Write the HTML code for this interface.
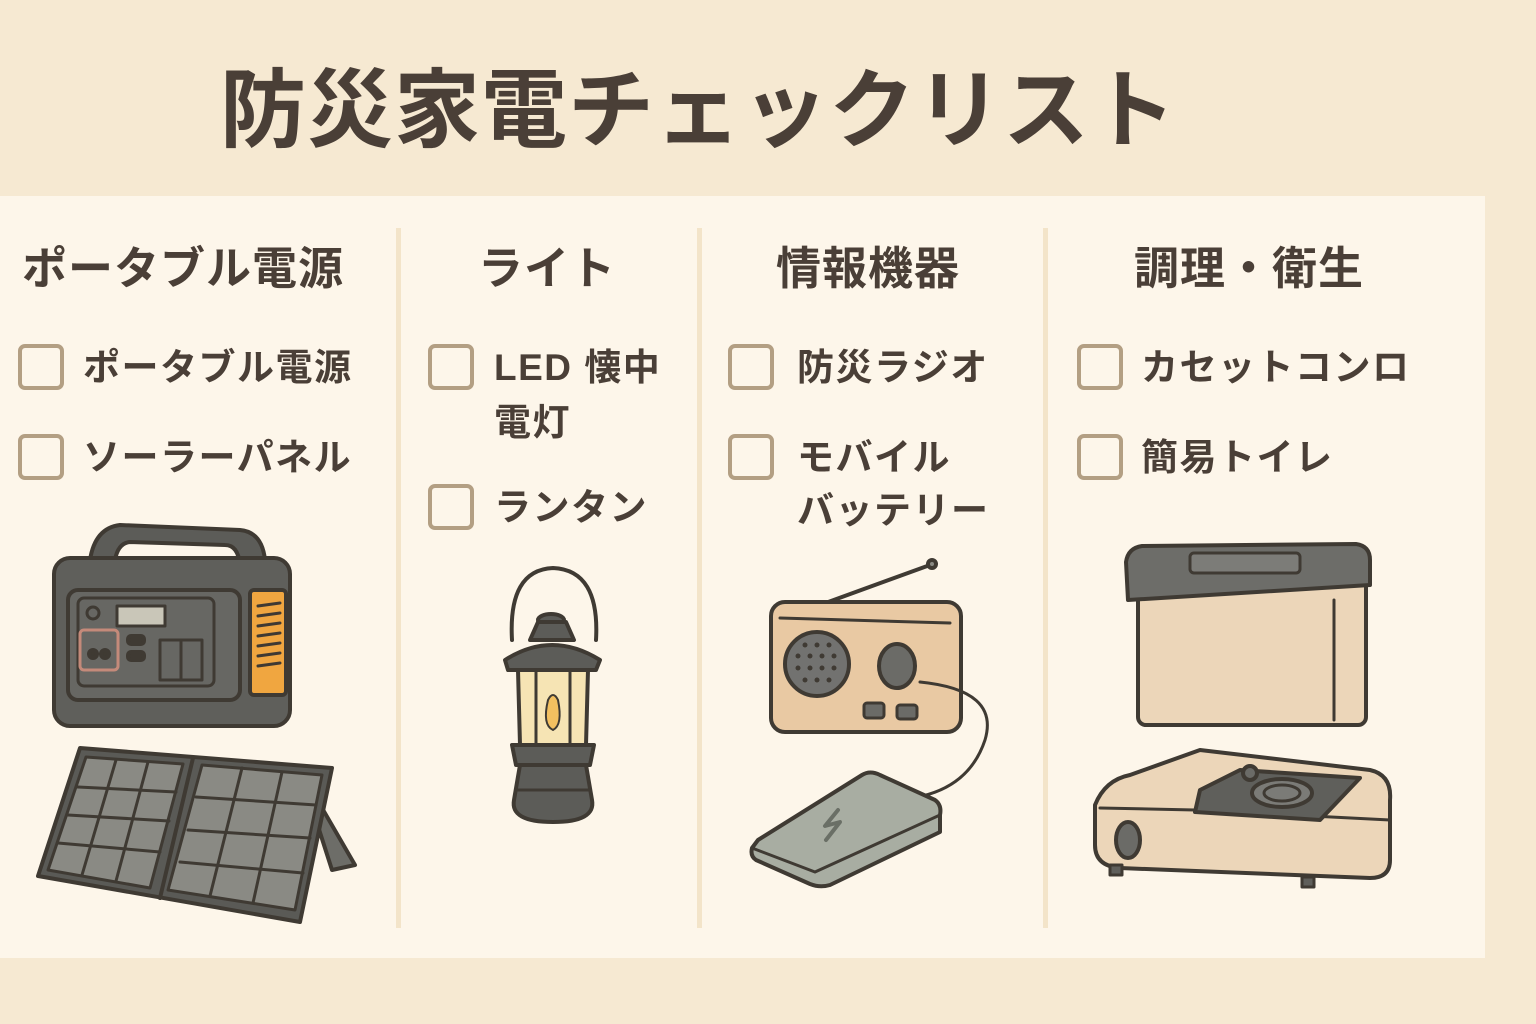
<!DOCTYPE html>
<html><head><meta charset="utf-8"><style>
*{margin:0;padding:0}
body{width:1536px;height:1024px;background:#f6e9d2;position:relative;overflow:hidden;font-family:"Liberation Sans","Noto Sans CJK JP",sans-serif;color:#4a3f37}
.t{position:absolute;white-space:nowrap;font-weight:700;line-height:1}
.cb{position:absolute;width:38px;height:38px;border:4px solid #b39f83;border-radius:7px}
.h{font-size:45px;letter-spacing:1px}
.i{font-size:37px;letter-spacing:1.5px}
</style></head><body>
<div class="t" style="left:220px;top:68px;font-size:86px;letter-spacing:1px">防災家電チェックリスト</div>
<div style="position:absolute;left:0;top:196px;width:1485px;height:762px;background:#fdf6ea"></div>
<div style="position:absolute;left:396px;top:228px;width:5px;height:700px;background:#f3e4c9"></div>
<div style="position:absolute;left:697px;top:228px;width:5px;height:700px;background:#f3e4c9"></div>
<div style="position:absolute;left:1043px;top:228px;width:5px;height:700px;background:#f3e4c9"></div>

<div class="t h" style="left:22px;top:246px">ポータブル電源</div>
<div class="t h" style="left:478px;top:246px">ライト</div>
<div class="t h" style="left:776px;top:246px">情報機器</div>
<div class="t h" style="left:1134px;top:246px">調理・衛生</div>

<div class="cb" style="left:18px;top:344px"></div>
<div class="t i" style="left:83px;top:349px">ポータブル電源</div>
<div class="cb" style="left:18px;top:434px"></div>
<div class="t i" style="left:83px;top:439px">ソーラーパネル</div>

<div class="cb" style="left:428px;top:344px"></div>
<div class="t i" style="left:494px;top:349px">LED 懐中</div>
<div class="t i" style="left:494px;top:404px">電灯</div>
<div class="cb" style="left:428px;top:484px"></div>
<div class="t i" style="left:494px;top:489px">ランタン</div>

<div class="cb" style="left:728px;top:344px"></div>
<div class="t i" style="left:797px;top:349px">防災ラジオ</div>
<div class="cb" style="left:728px;top:434px"></div>
<div class="t i" style="left:797px;top:439px">モバイル</div>
<div class="t i" style="left:797px;top:492px">バッテリー</div>

<div class="cb" style="left:1077px;top:344px"></div>
<div class="t i" style="left:1141px;top:349px">カセットコンロ</div>
<div class="cb" style="left:1077px;top:434px"></div>
<div class="t i" style="left:1141px;top:439px">簡易トイレ</div>

<svg width="1536" height="1024" style="position:absolute;left:0;top:0" stroke="#3f3a33" stroke-width="4" stroke-linejoin="round" stroke-linecap="round">
<path d="M90 560 Q95 528 120 525 L240 530 Q262 532 265 560 L240 565 Q238 545 225 545 L130 542 Q118 543 115 560 Z" fill="#5c5c58"/>
<rect x="54" y="558" width="236" height="168" rx="16" fill="#5f5f5b"/>
<rect x="250" y="590" width="36" height="105" rx="4" fill="#f0a640"/>
<g stroke-width="3"><line x1="258" y1="606" x2="280" y2="603"/><line x1="258" y1="616" x2="280" y2="613"/><line x1="258" y1="626" x2="280" y2="623"/><line x1="258" y1="636" x2="280" y2="633"/><line x1="258" y1="646" x2="280" y2="643"/><line x1="258" y1="656" x2="280" y2="653"/><line x1="258" y1="666" x2="280" y2="663"/></g>
<rect x="68" y="590" width="172" height="110" rx="10" fill="#676763"/>
<rect x="78" y="598" width="136" height="88" rx="6" fill="#676763" stroke-width="3"/>
<rect x="117" y="606" width="48" height="20" fill="#c9c6b8" stroke-width="3"/>
<circle cx="93" cy="613" r="6" fill="#676763" stroke-width="3"/>
<rect x="80" y="630" width="38" height="40" rx="4" fill="none" stroke="#c48a7a" stroke-width="3"/>
<circle cx="93" cy="654" r="4" fill="#3f3a33"/><circle cx="105" cy="654" r="4" fill="#3f3a33"/>
<rect x="160" y="640" width="42" height="40" fill="#676763" stroke-width="3"/><line x1="181" y1="640" x2="181" y2="680" stroke-width="3"/>
<rect x="128" y="636" width="16" height="8" rx="3" fill="#3f3a33"/><rect x="128" y="652" width="16" height="8" rx="3" fill="#3f3a33"/>
<path d="M300 770 L355 865 L332 870 Z" fill="#6d6d68"/>
<path d="M80 748 L332 768 L300 922 L38 876 Z" fill="#5a5a56"/>
<line x1="193" y1="758" x2="160" y2="898"/>
<g fill="#8a8a84" stroke-width="3">
<path d="M86 757 L183 764 L150 888 L48 870 Z"/>
<path d="M202 765 L322 775 L295 910 L168 890 Z"/>
</g>
<g stroke-width="3">
<line x1="116" y1="760" x2="82" y2="875"/><line x1="148" y1="762" x2="116" y2="881"/>
<line x1="78" y1="787" x2="176" y2="792"/><line x1="68" y1="815" x2="169" y2="821"/><line x1="58" y1="843" x2="160" y2="852"/>
<line x1="242" y1="768" x2="210" y2="896"/><line x1="282" y1="772" x2="253" y2="903"/>
<line x1="196" y1="797" x2="316" y2="805"/><line x1="188" y1="830" x2="310" y2="838"/><line x1="180" y1="862" x2="303" y2="873"/>
</g>
<path d="M512 640 Q508 570 553 568 Q600 570 596 640" fill="none"/>
<ellipse cx="551" cy="620" rx="13" ry="6" fill="#5c5c58"/>
<path d="M530 640 L538 622 L566 622 L574 640 Z" fill="#5c5c58"/>
<path d="M505 660 Q552 630 600 660 L596 670 L508 670 Z" fill="#5c5c58"/>
<path d="M518 670 L588 670 L586 745 L520 745 Z" fill="#f6e4b4"/>
<path d="M548 700 Q553 690 558 700 Q563 725 553 730 Q542 725 548 700 Z" fill="#f3c060" stroke-width="2"/>
<line x1="536" y1="672" x2="536" y2="743" stroke-width="3"/><line x1="570" y1="672" x2="570" y2="743" stroke-width="3"/>
<path d="M512 745 L594 745 L590 765 L516 765 Z" fill="#5c5c58"/>
<path d="M520 765 L586 765 L592 800 Q596 822 553 822 Q510 822 514 800 Z" fill="#5c5c58"/>
<line x1="518" y1="790" x2="588" y2="790" stroke-width="3"/>
<line x1="820" y1="605" x2="930" y2="565"/><circle cx="932" cy="564" r="4" fill="#8a8a84"/>
<rect x="771" y="602" width="190" height="130" rx="14" fill="#e9c9a3"/>
<line x1="780" y1="618" x2="950" y2="623" stroke-width="3"/>
<circle cx="817" cy="664" r="32" fill="#727270"/>
<g fill="#3f3a33" stroke="none"><circle cx="805" cy="645" r="2.5"/><circle cx="817" cy="645" r="2.5"/><circle cx="829" cy="645" r="2.5"/><circle cx="798" cy="656" r="2.5"/><circle cx="810" cy="656" r="2.5"/><circle cx="822" cy="656" r="2.5"/><circle cx="834" cy="656" r="2.5"/><circle cx="798" cy="668" r="2.5"/><circle cx="810" cy="668" r="2.5"/><circle cx="822" cy="668" r="2.5"/><circle cx="834" cy="668" r="2.5"/><circle cx="805" cy="680" r="2.5"/><circle cx="817" cy="680" r="2.5"/><circle cx="829" cy="680" r="2.5"/></g>
<ellipse cx="897" cy="666" rx="18" ry="22" fill="#6b6b67"/>
<rect x="864" y="703" width="20" height="15" rx="3" fill="#6b6b67" stroke-width="3"/><rect x="897" y="705" width="20" height="14" rx="3" fill="#6b6b67" stroke-width="3"/>
<path d="M920 682 Q1000 690 985 740 Q965 800 885 800" fill="none" stroke-width="3"/>
<path d="M758 840 L862 775 Q870 770 880 775 L935 800 Q942 805 940 815 L940 832 L830 885 Q820 888 810 884 L756 860 Q750 856 752 848 Z" fill="#a8ada2"/>
<path d="M752 848 L815 872 L940 815" fill="none" stroke-width="3"/>
<path d="M838 810 L825 826 L840 822 L826 840" fill="none" stroke="#6a6f66" stroke-width="4"/>
<rect x="1138" y="565" width="228" height="160" rx="8" fill="#ecd6b9"/>
<path d="M1126 562 Q1128 548 1142 546 L1356 544 Q1370 546 1370 560 L1370 585 L1128 600 Z" fill="#6d6d69"/>
<rect x="1190" y="553" width="110" height="20" rx="4" fill="#7c7c78" stroke-width="3"/>
<line x1="1334" y1="600" x2="1334" y2="720" stroke-width="3"/>
<path d="M1095 805 Q1105 780 1130 775 L1200 750 L1370 770 Q1392 775 1390 800 L1390 860 Q1390 878 1370 878 L1120 868 Q1095 866 1095 845 Z" fill="#ecd6b9"/>
<path d="M1100 808 L1195 810 L1390 820" fill="none" stroke-width="3"/>
<path d="M1200 790 L1240 770 L1360 778 L1320 820 L1195 812 Z" fill="#5f5f5b"/>
<ellipse cx="1282" cy="793" rx="30" ry="14" fill="#7b7b77"/>
<ellipse cx="1282" cy="793" rx="18" ry="8" fill="#7b7b77" stroke-width="3"/>
<circle cx="1250" cy="773" r="7" fill="#6b6b67"/>
<ellipse cx="1128" cy="840" rx="12" ry="18" fill="#6b6b67"/>
<rect x="1110" y="865" width="12" height="10" fill="#5f5f5b" stroke-width="3"/><rect x="1302" y="877" width="12" height="10" fill="#5f5f5b" stroke-width="3"/>
</svg>
</body></html>
